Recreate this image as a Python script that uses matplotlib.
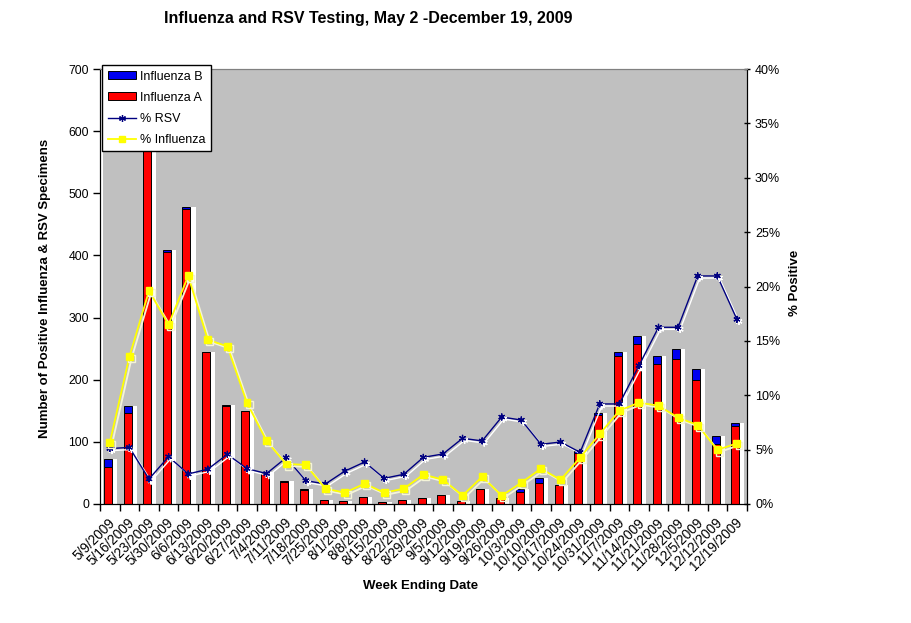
import numpy as np
import matplotlib
matplotlib.use("Agg")
import matplotlib.pyplot as plt
import matplotlib.patheffects as pe
from matplotlib.patches import Patch
from matplotlib.lines import Line2D

plt.rcParams['font.family'] = ['Liberation Sans', 'DejaVu Sans']

weeks = ['5/9/2009', '5/16/2009', '5/23/2009', '5/30/2009', '6/6/2009', '6/13/2009',
         '6/20/2009', '6/27/2009', '7/4/2009', '7/11/2009', '7/18/2009', '7/25/2009',
         '8/1/2009', '8/8/2009', '8/15/2009', '8/22/2009', '8/29/2009', '9/5/2009',
         '9/12/2009', '9/19/2009', '9/26/2009', '10/3/2009', '10/10/2009', '10/17/2009',
         '10/24/2009', '10/31/2009', '11/7/2009', '11/14/2009', '11/21/2009',
         '11/28/2009', '12/5/2009', '12/12/2009', '12/19/2009']

flu_a = [60, 147, 585, 405, 475, 244, 157, 149, 50, 36, 23, 6, 5, 11, 3, 6, 10,
         14, 5, 24, 10, 19, 33, 30, 82, 144, 238, 257, 225, 233, 200, 96, 125]
flu_b = [12, 10, 3, 3, 3, 1, 2, 1, 1, 1, 1, 0, 0, 0, 0, 0, 0,
         0, 0, 0, 0, 5, 9, 0, 3, 3, 7, 13, 13, 16, 18, 14, 5]

pct_rsv = [5.1, 5.2, 2.3, 4.35, 2.76, 3.2, 4.57, 3.25, 2.8, 4.26, 2.15, 1.84, 3.03,
           3.86, 2.36, 2.73, 4.29, 4.6, 6.04, 5.8, 8.0, 7.72, 5.49, 5.7, 4.75, 9.2,
           9.2, 12.72, 16.25, 16.25, 20.97, 20.97, 16.98]
pct_flu = [5.64, 13.55, 19.6, 16.5, 20.97, 15.1, 14.5, 9.3, 5.8, 3.68, 3.6, 1.41,
           1.04, 1.87, 1.04, 1.41, 2.7, 2.24, 0.77, 2.51, 0.77, 1.96, 3.25, 2.22,
           4.27, 6.44, 8.58, 9.32, 9.04, 7.94, 7.26, 4.97, 5.58]

x = np.arange(len(weeks))
a = np.array(flu_a)
b = np.array(flu_b)

fig = plt.figure(figsize=(9.11, 6.23), dpi=100)
ax = fig.add_axes([100/911, 1-504/623, 646.7/911, 435/623])
ax.set_facecolor('#C0C0C0')

# white strip along the left edge of the plot area
ax.axvspan(-0.5, -0.35, color='white', lw=0, zorder=0.5)

w = 0.41
ax.bar(x + 0.17, a + b, width=w, color='white', lw=0, zorder=1)
ax.bar(x - 0.09, a, width=w, color='#FF0000', edgecolor='black', lw=0.7, zorder=2)
ax.bar(x - 0.09, b, width=w, bottom=a, color='#0000EE', edgecolor='black', lw=0.7, zorder=2)

ax.set_xlim(-0.5, len(weeks) - 0.5)
ax.set_ylim(0, 700)
ax.set_yticks(range(0, 701, 100))
ax.set_xticks(x + 0.15)
ax.set_xticklabels(weeks, rotation=45, ha='right', va='center', rotation_mode='anchor')
ax.set_xticks(np.arange(-0.5, len(weeks)), minor=True)
ax.tick_params(axis='x', which='major', length=0, pad=12, labelsize=9.8)
ax.tick_params(axis='x', which='minor', length=5, direction='out', width=1)
ax.tick_params(axis='y', length=5, direction='out', width=1, labelsize=8.8, pad=3)
for s in ['left', 'bottom', 'right']:
    ax.spines[s].set_color('black')
ax.spines['top'].set_color('#808080')

ax2 = ax.twinx()
ax2.set_ylim(0, 40)
ax2.set_yticks(range(0, 41, 5))
ax2.set_yticklabels([f'{v}%' for v in range(0, 41, 5)])
ax2.tick_params(axis='y', length=4, direction='inout', width=1, labelsize=9, pad=4)
ax2.spines['right'].set_color('black')
ax2.spines['top'].set_color('#808080')

shadow_w = [pe.SimpleLineShadow(offset=(1.5, -1.5), shadow_color='white', alpha=1.0), pe.Normal()]
shadow_y = [pe.SimpleLineShadow(offset=(1.5, -1.5), shadow_color='#F4F4D8', alpha=1.0), pe.Normal()]

ax2.plot(x, pct_rsv, color='#000080', lw=1, marker=(6, 2, 0), ms=5, mew=0.9,
         path_effects=shadow_w, zorder=3)
ax2.plot(x, pct_flu, color='#FFFF00', lw=1.3, marker='s', ms=5, mec='#FFFF00',
         path_effects=shadow_y, zorder=3)

handles = [Patch(facecolor='#0000EE', edgecolor='black', lw=0.7),
           Patch(facecolor='#FF0000', edgecolor='black', lw=0.7),
           Line2D([], [], color='#000080', lw=1, marker=(6, 2, 0), ms=5, mew=0.9),
           Line2D([], [], color='#FFFF00', lw=1.3, marker='s', ms=5, mec='#FFFF00')]
labels = ['Influenza B', 'Influenza A', '% RSV', '% Influenza']
leg = ax2.legend(handles, labels, loc='upper left',
                 bbox_to_anchor=(102/911, 1-65/623), bbox_transform=fig.transFigure,
                 fontsize=9, frameon=True, fancybox=False, framealpha=1,
                 edgecolor='black', borderpad=0.45, handlelength=2.3,
                 handleheight=0.55, handletextpad=0.3, labelspacing=0.72,
                 borderaxespad=0)
leg.get_frame().set_linewidth(1)
leg.set_zorder(10)

fig.text(368/911, 1-19/623, 'Influenza and RSV Testing, May 2 -December 19, 2009',
         ha='center', va='center', fontsize=11.5, fontweight='bold')
fig.text(421/911, 1-586/623, 'Week Ending Date', ha='center', va='center',
         fontsize=9.5, fontweight='bold')
fig.text(45/911, 1-288/623, 'Number of Positive Influenza & RSV Specimens',
         ha='center', va='center', rotation=90, fontsize=9.5, fontweight='bold')
fig.text(795/911, 1-283/623, '% Positive', ha='center', va='center',
         rotation=90, fontsize=9.5, fontweight='bold')

fig.savefig('out.png', dpi=100)
